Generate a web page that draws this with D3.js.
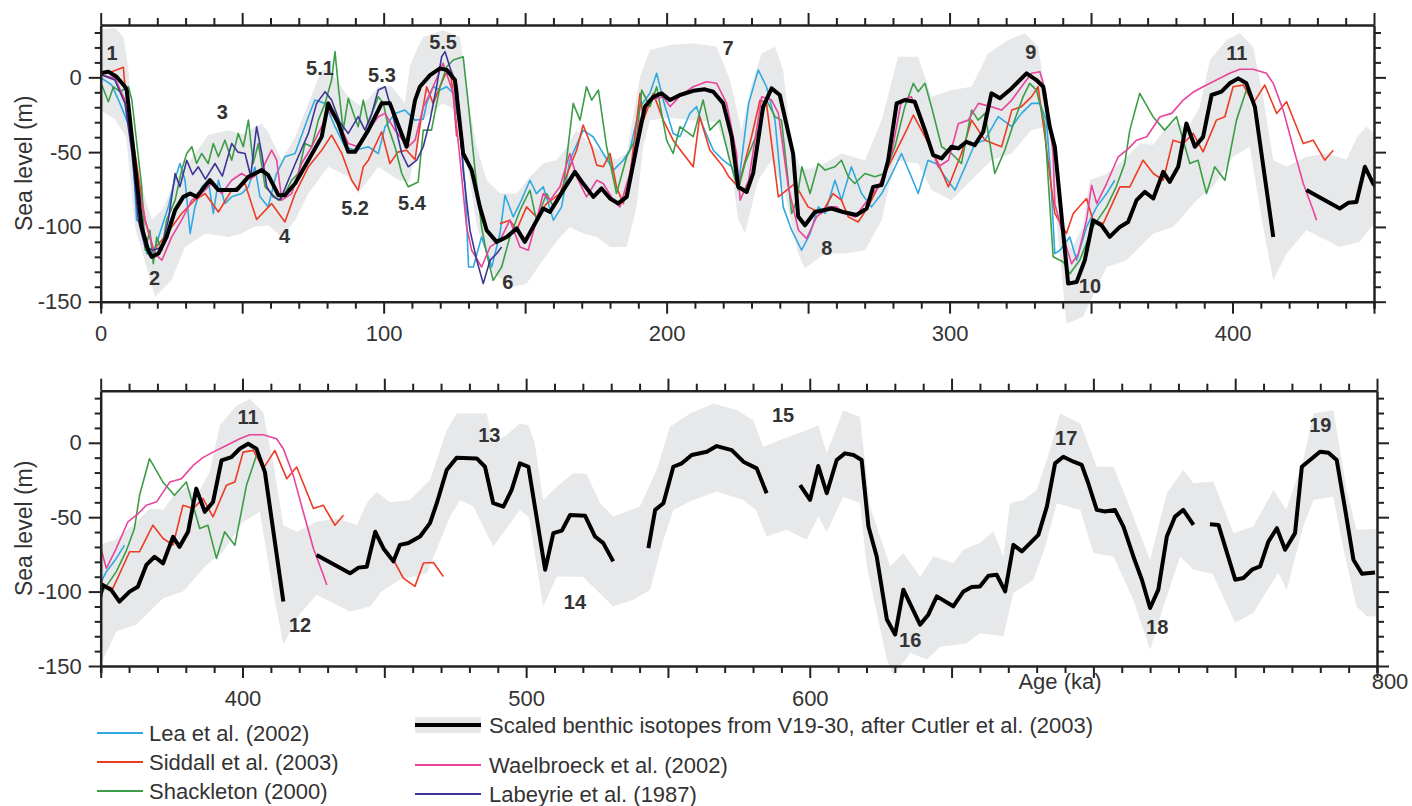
<!DOCTYPE html>
<html>
<head>
<meta charset="UTF-8">
<title>Sea level</title>
<script src="https://d3js.org/d3.v7.min.js"></script>
<style>
  body { margin: 0; background: #fff; }
  svg { font-family: "Liberation Sans", Arial, sans-serif; }
  .tick text { fill: #333; font-size: 22px; }
  .domain { stroke: #222; stroke-width: 2.5px; }
  .tick line { stroke: #222; stroke-width: 2px; }
</style>
</head>
<body>
<svg id="chart" width="1412" height="806"></svg>
<script>
// age (ka), sea level (m); null = gap in record
const benthic = [
  [0,2.7],[2.7,3.8],[5.6,0.4],[8.6,-6.3],[9.2,-8.5],[14.5,-100],[16.8,-115.6],[18,-120],[20.4,-117.8],[23.3,-106.7],
  [26.3,-88.8],[29.2,-79.9],[31.6,-77.6],[33.9,-79.9],[38.6,-68.7],[41.6,-75.4],[48,-75.4],[52.2,-66.5],[56.9,-62],
  [59.2,-65.4],[62.8,-78.8],[65.1,-78.8],[68.7,-71],[73.4,-55.4],[78.1,-39.8],[80.4,-17.4],[84,-30.8],[87.5,-49.8],
  [89.9,-49.8],[94.6,-35.3],[99.3,-17.4],[102.2,-17.4],[108.1,-46.4],[111.1,-15.2],[112.8,-6.3],[116.4,1.5],[119.9,6],
  [122.3,4.9],[125.2,-1.8],[128.1,-50.9],[131.1,-62],[134,-86.6],[136.4,-102.2],[139.9,-110],[143.5,-106.7],[147,-101],
  [149.9,-110],[153.5,-97.7],[156.4,-87.7],[158.8,-90],[163.5,-75.4],[167.6,-63.2],[170.5,-71],[174.1,-79.9],[177,-74.3],
  [180,-81],[182.9,-84.3],[185.9,-79.9],[189.4,-46.4],[192.3,-19.7],[195.3,-13],[198.2,-10.7],[201.2,-15.2],[204.7,-11.8],
  [209.4,-9],[213.5,-8],[216.5,-9.6],[220,-17.4],[223,-39.8],[225.3,-73.2],[228.3,-76.6],[230.6,-64],[234.1,-19.7],
  [237.1,-7.4],[240,-11.8],[244.7,-51],[246.5,-93],[248.9,-98.9],[252.4,-90],[258.3,-87.7],[262.4,-90],[267.1,-92],
  [270.7,-87.7],[273,-73.2],[276,-72],[278.3,-55.4],[281.3,-17.4],[284.2,-15.2],[287.7,-16.3],[291.3,-35.3],[294.2,-52],
  [297.2,-54.2],[300.7,-46.4],[303.1,-47.5],[306,-43.1],[308.9,-45.3],[311.9,-36.4],[314.8,-10.7],[317.8,-14],[321.9,-7.4],
  [327.2,2.7],[330.7,-1.8],[333.1,-6.3],[335.4,-33.1],[337.2,-46.4],[341.9,-137.9],[344.9,-136.8],[347.8,-122.3],
  [350.7,-95.5],[353.7,-98.9],[356.6,-106.7],[360.2,-100],[363.1,-96.7],[366.1,-82.1],[369,-76.6],[372,-81],[375.5,-63.2],
  [377.8,-69.9],[380.8,-59.8],[383.7,-30.8],[386.7,-46.4],[389.6,-39.8],[392.6,-11.8],[396.1,-9.6],[399,-4],[402,-0.7],
  [404.9,-4],[407.9,-19.7],[414.4,-106.7],
  null,
  [426.1,-75.4],[437.9,-87.7],[440.9,-83.9],[443.8,-83.3],[446.8,-59.8],[449.7,-71],[453.2,-79.7],[455.5,-68.6],
  [458.5,-67.4],[462.6,-63],[466.1,-54],[468.5,-40.6],[472,-18.3],[475.5,-10],[482.6,-10.5],[485.5,-16.1],[488.4,-40.6],
  [492,-42.9],[494.9,-31.7],[497.8,-13.8],[500.8,-16.1],[506.7,-85.3],[509.6,-60.7],[512.6,-59],[515.5,-48.5],
  [520.8,-49.1],[524.3,-63],[527.2,-67.4],[530.7,-79.7],
  null,
  [543.1,-70.8],[545.5,-45.1],[548.4,-40.6],[551.9,-16.1],[554.9,-13.8],[558.4,-8.2],[563.7,-6],[567.2,-2.2],
  [572.5,-4.9],[576.6,-12.7],[581.3,-17.2],[584.8,-33.9],
  null,
  [596.6,-28.4],[600.1,-38.4],[603,-15.6],[606,-33.9],[609.5,-11.6],[612.4,-7.1],[615.4,-8.2],[618.3,-11.6],
  [620.7,-56.3],[623.6,-76.4],[627.2,-118.8],[630.1,-128.9],[633,-98.7],[638.9,-122.2],[641.8,-115.5],[644.8,-103.2],
  [650.6,-109.9],[654.2,-99.9],[657.1,-96.9],[660,-96.5],[663,-89.3],[665.9,-88.7],[668.9,-99.9],[671.8,-68.6],
  [674.8,-73],[677.7,-67.4],[680.6,-61.9],[683.6,-42.9],[686.5,-13.8],[689.4,-9.4],[693,-12.7],[695.9,-14.9],
  [698.2,-27.2],[701.2,-45.1],[704.1,-46.2],[707.6,-45.1],[710.6,-56.3],[714.1,-76.4],[717.1,-92],[720,-111],
  [722.9,-98.7],[725.9,-63],[728.8,-49.6],[731.7,-45.1],[735.3,-55.2],
  null,
  [741.1,-54.7],[744.1,-55.2],[750,-92],[752.9,-90.9],[755.9,-85.3],[758.8,-83.1],[761.7,-66.4],[764.7,-57.4],
  [767.6,-71.9],[771.1,-60.7],[773.5,-16.1],[776.4,-11.6],[779.9,-6],[782.9,-6.7],[785.8,-11.6],[788.8,-45.1],
  [791.7,-78.6],[794.7,-88],[799.3,-87.1]
];

// grey uncertainty envelope of the benthic curve
const bandUpper = [
  [0,32],[5,33],[8,27],[9.7,7],[11.4,-37],[14,-70],[18,-95],[22,-88],[26.3,-68.7],[33.3,-50.9],[38,-38.6],
  [45.1,-35.3],[50,-38],[56.9,-30.8],[59,-36],[64,-55.4],[68.7,-39.8],[73.4,-17.4],[78.1,4.9],[80.9,5],[87.5,-13],
  [92.2,-19.7],[98.1,-6.3],[102.8,-6],[107.5,-17.4],[109.3,8],[112.2,20.5],[114,27],[121,31.7],[127,27],[130,-17.4],
  [132.9,-46.4],[136.4,-68.7],[141.1,-77.6],[147,-77.6],[151.7,-66.5],[156.4,-57.6],[161.1,-55.4],[164.7,-46.4],
  [168.2,-35.3],[172.9,-44.2],[177.6,-50.9],[182.3,-55],[185.9,-50.9],[190.6,0.4],[194.1,18.3],[201.2,21.6],
  [209.4,22.8],[217.7,20.5],[222.4,-1.8],[226.5,-35.3],[230,-5],[233.6,16],[238.3,20.5],[241.2,4.9],[244.2,-46.4],
  [247.7,-62],[253.6,-59.8],[261.8,-50.9],[270.1,-55.4],[276,-28.6],[281.8,13.8],[288.9,13.8],[293.6,-13],
  [300.7,-8.5],[307.8,-6.3],[313.6,16],[320.7,25],[326.6,29.5],[331.3,20.5],[334.3,-15],[337,-40],[340,-100],
  [343,-115],[347,-100],[349.6,-68.7],[355,-65],[361.4,-55.4],[367.2,-44.2],[372,-45],[376.7,-33.1],[380.2,-30],
  [384,-35],[388.4,-19.7],[392,11.6],[397.9,25],[402.6,29.5],[407.3,20.5],[410.8,-13],[414.4,-55.4],[419.1,-59.8],
  [426.1,-53.1],[433.2,-50.9],[440.3,-55],[444,-40],[447.3,-33],[452,-40],[459,-38.4],[466.1,-25],[472,8.5],
  [475.5,19.7],[486.1,19.7],[488.4,-0.4],[493,5],[497.8,13],[500.8,11.7],[503,0],[506,-38.4],[510.8,-29.5],
  [516.6,-20.5],[521.3,-21],[526.1,-40.6],[530.7,-49.6],[540.1,-42.9],[546,-18.3],[550.7,10.7],[557.8,19.7],
  [566,26.4],[574.3,21.9],[580.1,15.2],[583.6,-2.7],[589.5,1.8],[598.9,8.5],[603,11.9],[606,-7.1],[611.8,21.9],
  [617.7,17.4],[621.3,-42.9],[628.3,-83.1],[633,-74.1],[638.9,-90],[643.6,-76.4],[650.6,-80.8],[654.2,-71.9],
  [660,-67.4],[664.7,-59.6],[668.3,-76.4],[670.6,-40.6],[675.3,-38.4],[680,-31.7],[683.6,-11.6],[688.3,19.7],
  [695.4,13],[701.2,-16.1],[707.1,-16.1],[711.8,-38.4],[720,-78.6],[725.9,-33.9],[731.7,-18.3],[735.3,-27.2],
  [742.3,-26.1],[749.4,-60.7],[756.4,-56.3],[763.5,-31.7],[768,-45],[774,-11.6],[777.6,19.7],[784.6,21.9],
  [789.3,-31.7],[792.8,-58.5],[800,-58]
];
const bandLower = [
  [0,-22],[5,-28],[9,-40],[12.1,-100],[19.2,-146.8],[25,-135.7],[29.8,-113.4],[36.9,-104.4],[45.1,-106.7],
  [49.8,-104.4],[54,-100],[59.2,-98.9],[64,-106.7],[68.7,-95.5],[73.4,-77.6],[80.4,-59.8],[87.5,-66.5],[91,-77.6],
  [98.1,-59.8],[105.2,-68.7],[109,-70],[114,-28],[121,-17.4],[127,-24],[129.3,-55.4],[133,-100],[138.7,-131],
  [145.8,-140],[150.5,-138],[156.4,-122],[161,-110],[165.8,-100],[170.5,-104.4],[175.3,-106.7],[180,-113.4],
  [185.9,-113.4],[189.4,-86.6],[191.7,-46.4],[194.1,-28.6],[201.2,-27],[209.4,-28.6],[217.7,-30],[222.4,-55.4],
  [225.3,-95],[227.7,-104.4],[232.4,-68.7],[237.1,-55.4],[241.8,-77.6],[246.5,-117.8],[248.9,-127.8],[255.9,-117.8],
  [263,-117.8],[270.1,-115.6],[276,-95.5],[280.7,-55.4],[288.9,-57.6],[293.6,-75.4],[300.7,-82.1],[307,-70],
  [314.8,-55.4],[321.9,-50.9],[328.9,-35.3],[333.6,-33.1],[337,-80],[341.3,-164.7],[347.2,-160],[355.5,-126.8],
  [362.5,-122.3],[372,-104.4],[379,-100],[387.3,-82.1],[393.1,-73.2],[400.2,-53.1],[406.1,-46.4],[410.8,-100],
  [414.4,-135.7],[419.1,-117.8],[426.1,-102.2],[437.9,-113.4],[445,-110],[449,-100],[455.5,-92],[465,-87.6],
  [473.2,-49.6],[476.7,-38.4],[481.4,-42.9],[488.4,-69.7],[497.8,-45.1],[501,-50],[506,-110],[510.8,-89.8],
  [520,-90],[530.7,-110],[537.8,-105.4],[543.7,-98.7],[548.4,-65.2],[551.9,-45.1],[558.9,-38.4],[567.2,-32.8],
  [576.6,-38.4],[581,-45],[584.8,-63],[591.9,-58.5],[598.9,-65.2],[603,-49.6],[606,-60],[611.8,-36.2],[617.7,-40.6],
  [620.1,-83.1],[627.2,-145.6],[629.5,-156.8],[635.4,-141.2],[641.3,-145.6],[646,-137],[655,-135],[660,-128],
  [668.3,-130],[671.8,-101],[678.9,-92],[683,-70],[687.1,-40.6],[695.4,-45.1],[700,-74.1],[707.1,-76.4],
  [714.1,-105.4],[720,-139],[724.7,-110],[730.6,-76.4],[735.3,-85.3],[742,-88],[750,-121],[756.4,-114.3],
  [761,-100],[765.2,-87.5],[768.2,-98.7],[774,-56.3],[777.6,-38.4],[784.6,-36.2],[788,-70],[792.8,-110],
  [796.4,-116.6],[800,-116.6]
];

const lea = [
  [0.4,-0.7],[3.9,-5.1],[6.8,-17.4],[9.2,-28.6],[11,-37.5],[12.7,-95.5],[14.5,-97.8],[16.3,-117.9],[18.6,-117.9],
  [21.6,-100],[23.9,-86.6],[26,-70],[28,-57.6],[29.8,-68.8],[31.6,-104.4],[33.3,-86.6],[35.7,-73.2],[38,-68.8],
  [39.8,-91],[41.6,-68.8],[43.9,-84.4],[46.3,-79.9],[49.8,-77.7],[52.2,-73.2],[54.5,-60],[56.3,-79.9],[59.2,-86.6],
  [62,-65],[65.1,-53.1],[68.7,-50.9],[73.4,-26.3],[75.7,-15.2],[79.3,-17.4],[82.8,-33],[86.3,-46.4],[89.9,-48.7],
  [94.6,-46.4],[98.1,-50.9],[100.5,-33],[104,-24.1],[107.5,-21.9],[111.1,-28.6],[114,-28],[115.2,-17.4],[117.5,-6.3],
  [119.9,-8.5],[122.3,-6.3],[124.6,-10.7],[127,-35.3],[128.8,-73.2],[130,-126.8],[131.7,-126.8],[134.6,-106.7],
  [138.2,-126.8],[141.1,-104.4],[142.9,-78.8],[145.8,-93.3],[148.7,-82.1],[151.7,-68.8],[154,-77.7],[156.4,-73.2],
  [160,-95.5],[162.9,-86.6],[165.8,-55.4],[170.5,-35.3],[174,-39.7],[177.6,-50.9],[181.2,-62],[184.7,-55.4],
  [187,-48.7],[190.6,-19.6],[194.1,-10.7],[196.5,2.7],[198.8,-15.2],[202.3,-37.5],[204.7,-39.7],[208.2,-24.1],
  [210.6,-19.6],[212.9,-33],[216.5,-48.7],[220,-55.4],[223,-59.8],[225.3,-73.2],[229,-17.4],[232.4,4.9],[235.3,-6.3],
  [238.3,-28.6],[241.2,-86.6],[244.2,-102.2],[247.7,-115.6],[250.7,-104.5],[253.6,-86.6],[256,-91],[259.5,-68.8],
  [261.8,-82.1],[265.3,-59.8],[268.9,-77.7],[272.4,-86.6],[276,-77.7],[279.5,-65],[283,-50.9],[286.5,-66.5],
  [288.9,-77.7],[292.4,-55.4],[295.5,-58],[298.4,-66.5],[301.9,-75.4],[305.5,-59.8],[309,-44.2],[312.5,-42],
  [317.2,-26.3],[322,-33],[325.4,-24.1],[329,-17.4],[331.9,-17.4],[334.2,-28.6],[335.5,-60],[337.2,-117.9],
  [339,-115.6],[342.5,-106.7],[344.9,-122.3],[348.4,-100],[352,-86.6],[355.5,-77.7],[358.4,-68.8]
];
const siddall = [
  [0.4,2.7],[3.9,3.8],[8,6.7],[8.6,-6.3],[12.1,-50.9],[15.7,-95.5],[18.6,-115.6],[21.6,-108.9],[25.1,-100],
  [28.6,-91],[33.3,-82],[36.9,-77.7],[41.6,-90],[46.3,-75.4],[51,-71],[55.1,-95],[60.4,-84.4],[65.1,-96.7],
  [68.7,-77.7],[73.4,-59.8],[78.1,-48.7],[81.6,-38.6],[85.2,-50.9],[88.7,-68.8],[91,-75.4],[92.8,-59.8],[94.6,-55.4],
  [99.3,-36.4],[102.2,-57.6],[105,-50],[108.1,-48.7],[111.1,-55],[113,-30],[115.2,-6.3],[117.5,-17.4],[119.9,-6.3],
  [121.7,1.6],[123.5,4.9],[124.5,-10],[125.8,-39.7],
  null,
  [141.1,-97.8],[144.6,-95.5],[147,-102],[150.5,-86.6],[154,-93.3],[157.6,-84.4],[162.3,-77.7],[165.8,-59.8],
  [168.2,-48.7],[170.5,-31.9],[173.5,-46.4],[175.3,-58.7],[177.6,-59.8],[180,-50.9],[182.3,-73.2],[184.7,-84.4],
  [187,-66.5],[190.6,-10.7],[191.8,-28.6],[195.3,-10.7],[198.8,-28.6],[202.3,-42],[205.8,-50.9],[209.4,-59.8],
  [211.7,-26.3],[215.3,-48.7],[220,-59.8],[222,-66.5],[225.3,-73.2],[230,-39.7],[233,-15.2],[235.3,-17.4],
  [239.5,-79.9],[245.3,-71],[250,-86.6],[254.8,-91],[258.8,-77.7],[261.8,-82.1],[264.2,-93.3],[267.7,-96.7],
  [271.2,-86.6],[276,-68.8],[280.7,-50.9],[284.8,-35.3],[287.2,-25.2],[291.3,-39.7],[296,-57.6],[299.6,-73.2],
  [301.9,-62.1],[304.2,-50.9],[307.8,-28.6],[312.5,-42],[318.4,-46.4],[322,-21.9],[325.4,-19.6],[329,-12.9],
  [331.3,-6.3],[333.7,-39.7],[337.2,-91],[341.3,-104.4],[343.7,-91],[348.4,-81],[350.7,-95.5],[354.3,-97.8],
  [360.2,-73.2],[363.7,-73.2],[368.4,-55.4],[372,-64.3],[375.5,-68.8],[379,-42],[382.6,-44.2],[386.1,-37.5],
  [389.6,-49.8],[394.3,-28.6],[397.3,-26.3],[400.2,-6.3],[403.8,-5.1],[407.3,-17.4],[411.4,-5.1],[415.6,-24.1],
  [419.1,-16.3],[425,-44.2],[428.5,-42],[432.6,-55.4],[435.6,-48.7],
  null,
  [453.2,-78.6],[456.7,-90.9],[460.8,-96.5],[463.8,-80.8],[467.3,-80.4],[470.8,-89.8]
];
const shackleton = [
  [0.4,-5.1],[2.7,-16.3],[4.5,-6.3],[6.8,-9.6],[9.8,-6.3],[11,-15],[14.5,-73.2],[15.7,-115.6],[17.4,-102.2],
  [18.6,-124.6],[19.8,-106.7],[21.6,-115.6],[23.3,-95.5],[26.3,-82.1],[28.6,-62],[30.4,-50.9],[32.2,-46.4],
  [33.9,-57.6],[35.7,-50.9],[38,-57.6],[39.8,-44.2],[41.6,-53.1],[43.9,-42],[46.3,-55.4],[48.6,-37.5],[50.4,-46.4],
  [52.2,-28.6],[53.9,-57.6],[55.7,-44.2],[58.1,-73.2],[60.4,-77.7],[62.8,-82.1],[65.1,-77.7],[67.5,-68.8],
  [69.8,-64.3],[72.2,-44.2],[74.6,-46.4],[76.9,-28.6],[79.3,-17.4],[81.6,-1.8],[82.8,17.2],[84,-6.3],[85.7,-35.3],
  [87.5,-14],[89.3,-24.1],[91,-33],[92.8,-15.2],[94.6,-31],[96.3,-21.9],[98.1,-13],[99.9,-17.4],[101.6,-33],
  [104,-46.4],[106.4,-64.3],[108.7,-73.2],[112.2,-70],[114,-35.3],[116.9,-35.3],[119.9,-6.3],[122.3,7.1],
  [124.6,11.6],[128.1,13.8],[129.9,-17.4],[132.3,-62],[134.6,-100],[136.4,-117.9],[138.7,-135.7],[141.7,-126.8],
  [144.6,-106.7],[148.2,-88.8],[151.7,-75.4],[154,-95.5],[157.6,-77.7],[160,-86.6],[163.5,-73.2],[167,-17.4],
  [169.4,-28.6],[171.7,-6.3],[173.5,-15.2],[175.9,-8.5],[178.8,-46.4],[182.3,-77.7],[185.9,-53.1],[189.4,-39.7],
  [191.2,-8.5],[194.1,-19.6],[196.5,-6.3],[200,-42],[202.3,-50.9],[204.7,-33],[209.4,-39.7],[212.9,-15.2],
  [215.3,-35.3],[218.8,-28.6],[222.3,-55.4],[225.3,-75.4],[227.7,-57.6],[232.4,-35.3],[235.3,-15.2],[238.3,-26.3],
  [240.6,-28.6],[244.2,-91],[246,-82.1],[247.8,-59.8],[250.7,-77.7],[253.6,-57.6],[256,-62],[259.5,-59.8],
  [261.8,-55.4],[264.2,-66.5],[266.5,-71],[270.1,-64.3],[273.6,-66.5],[277.1,-64.3],[280.7,-46.4],[284.2,-19.6],
  [287.2,-4],[288.9,-9.6],[291.3,-4],[293.6,-19.6],[297.2,-46.4],[300.7,-50.9],[304.2,-57.6],[307.8,-21.9],
  [310.1,-28.6],[312.5,-24.1],[316,-64.3],[319.5,-48.7],[323,-28.6],[326,-12.9],[328.3,-4],[330.7,-8.5],
  [333.6,-31],[336.6,-120],[340.2,-123.4],[342.5,-131.3],[346,-122.3],[350.7,-100],[355.5,-86.6],[358.9,-73.2],
  [361.9,-57.6],[363.7,-35.3],[367.2,-10.7],[371.9,-26.3],[376,-35.3],[380.2,-26.3],[384.9,-57.6],[387.8,-55.4],
  [390.8,-77.7],[393.7,-59.8],[397.3,-68.8],[401.4,-28.6],[404.9,-8.5]
];
const waelbroeck = [
  [0.4,1.6],[5,-0.7],[8.6,-15.2],[12,-60],[15.7,-95.5],[19.2,-117.9],[21.6,-122.3],[25.1,-106.7],[28.6,-95.5],
  [32.2,-82.1],[35.5,-78],[39.2,-71],[42.8,-77.7],[46.3,-68.8],[49.8,-64.3],[53,-68],[56.9,-62],[60.4,-48.7],
  [62.2,-55.4],[64,-82.1],[67.5,-77.7],[71,-57.6],[74.6,-46.4],[78.1,-33],[80.4,-21.9],[84,-30],[87.5,-44.2],
  [91,-46.4],[94.6,-35.3],[98.1,-26.3],[100.5,-24.1],[104,-35.3],[108.7,-46.4],[111.1,-42],[114,-20],[117.5,-6.3],
  [121,9.4],[124.6,-10.7],[127,-55.4],[129.3,-100],[131.1,-115.6],[134.6,-126.8],[137.6,-113.4],[141.1,-109],
  [144.6,-95.5],[148.2,-113.4],[151.1,-115.6],[154,-95.5],[156.4,-77.7],[158.8,-82.1],[162.3,-73.2],[165.8,-50.9],
  [168.2,-66.5],[171.7,-79.9],[175.3,-68.8],[177.6,-71],[181.2,-82.1],[183.5,-86.6],[187,-64.3],[190.6,-28.6],
  [194.1,-15.2],[198.8,-13],[201.2,-19.6],[205,-12],[209.4,-6.3],[214.1,-2.9],[217.7,-4],[221.2,-17.4],
  [224.7,-50.9],[226,-82.1],[229,-68.8],[233.6,-13],[237.1,-15.2],[239.5,-24.1],[243,-73.2],[246.6,-102.2],
  [249.5,-107.8],[253,-93.3],[257.1,-86.6],[260,-86.6],[263,-91],[266.7,-93.3],[270.1,-84.4],[275,-73.2],
  [279.5,-50.9],[283,-15.2],[286.5,-13],[291,-35],[296,-59.8],[299.6,-55.4],[303.1,-31],[306.6,-28.6],
  [310.2,-17.4],[314.8,-19.6],[318.4,-21.9],[322,-15.2],[325.4,-6.3],[329,2.7],[331.9,3.8],[334,-10],[336.6,-50.9],
  [337.2,-84.4],[340.2,-106.7],[343.1,-124.6],[345.5,-118],[348.4,-95.5],[350.2,-72.1],[352,-84.4],[355.5,-71],
  [359.6,-53.1],[363,-48],[366.1,-42],[369.7,-39.7],[374.4,-26.3],[378.5,-24.1],[382.6,-15.2],[386,-10],
  [389.6,-6.3],[394.3,-1.8],[399,2.7],[402.6,5.4],[407.3,5.4],[412,2.7],[414.4,-4],[417.9,-21.9],[421.4,-46.4],
  [425,-71],[428.5,-88.8],[429.7,-95.5]
];
const labeyrie = [
  [0.4,1.6],[5,-1.8],[8.6,-17.4],[11,-50],[13.3,-95.5],[15.7,-113.4],[18.6,-115.6],[21.6,-113.4],[23.9,-95.5],
  [26.3,-64.3],[28,-73.2],[30.4,-55.4],[32.5,-65],[34.5,-59.8],[37,-68],[40.4,-57.6],[43,-66],[46.3,-44.2],
  [48.5,-50],[51,-50.9],[53,-66],[55.1,-33],[56.9,-50.9],[58.7,-73.2],[61,-79.9],[63.4,-82.1],[66.3,-68.8],
  [69.8,-53.1],[73.4,-37.5],[76.3,-17.4],[79.3,-9.6],[81.6,-15.2],[84.5,-30],[87.5,-37.5],[91,-26.3],[93.4,-35.3],
  [95.8,-24.1],[98.1,-8.5],[100.5,-6.3],[102.8,-21.9],[106.4,-50.9],[108.7,-59.8],[111.7,-55.4],[114,-46.4],
  [116.4,-28.6],[118.7,-6.3],[120.5,13.8],[121.7,17.2],[123.5,6.3],[126,-6.3],[128.1,-62],[130.5,-102.2],
  [132.9,-122.3],[135.2,-137.9],[137.6,-122.3],[139.9,-117.9],[141.7,-113.4]
];

// marine isotope stage labels: [text, age, level]
const stagesTop = [
  ["1",4,16],["2",19,-134],["3",43,-23],["4",65,-106],["5.1",77.5,6],["5.2",89.9,-87.5],["5.3",99.4,1.5],
  ["5.4",110,-84],["5.5",121,23.6],["6",143.9,-137],["7",221.7,19.6],["8",256.6,-114.3],["9",328.7,16.9],
  ["10",349.6,-139.7],["11",401.5,16.3]
];
const stagesBottom = [
  ["11",402,17.2],["12",420.3,-122.4],["13",487,5.2],["14",517.2,-106.7],["15",590.6,18.6],["16",635.4,-132.2],
  ["17",690.4,3.1],["18",722.5,-123.5],["19",780,11.9]
];
// labelled ages on each lower axis (700 is covered by the axis title in the original)
const topAxisLabels = [0, 100, 200, 300, 400];
const bottomAxisLabels = [400, 500, 600];

const series = [
  { name: "Lea et al. (2002)", data: lea, color: "#2fa9e1" },
  { name: "Siddall et al. (2003)", data: siddall, color: "#ee3b24" },
  { name: "Shackleton (2000)", data: shackleton, color: "#3c9d47" },
  { name: "Waelbroeck et al. (2002)", data: waelbroeck, color: "#e8449b" },
  { name: "Labeyrie et al. (1987)", data: labeyrie, color: "#3d3594" }
];

const svg = d3.select("#chart");

const panels = [
  { id: "top", domain: [0, 450], left: 100.7, right: 1374, top: 25, bottom: 301.7, stages: stagesTop, labels: topAxisLabels },
  { id: "bot", domain: [350, 800], left: 100.7, right: 1377, top: 390.7, bottom: 666, stages: stagesBottom, labels: bottomAxisLabels }
];

panels.forEach(p => {
  const x = d3.scaleLinear().domain(p.domain).range([p.left, p.right]);
  const y = d3.scaleLinear().domain([-150, 35]).range([p.bottom, p.top]);
  const g = svg.append("g");

  const defs = g.append("defs");
  defs.append("clipPath").attr("id", "band-" + p.id).append("rect")
    .attr("x", p.left).attr("y", p.top).attr("width", p.right - p.left).attr("height", p.bottom - p.top + 40);
  defs.append("clipPath").attr("id", "plot-" + p.id).append("rect")
    .attr("x", p.left).attr("y", p.top).attr("width", p.right - p.left).attr("height", p.bottom - p.top);

  // grey envelope: upper edge left to right, lower edge back
  const ring = bandUpper.concat(bandLower.slice().reverse());
  g.append("path")
    .attr("clip-path", `url(#band-${p.id})`)
    .attr("d", d3.line().x(d => x(d[0])).y(d => y(d[1]))(ring) + "Z")
    .attr("fill", "#e7e8ea");

  const line = d3.line().defined(d => d !== null).x(d => x(d[0])).y(d => y(d[1]));
  const lines = g.append("g").attr("clip-path", `url(#plot-${p.id})`).attr("fill", "none");
  series.forEach(s => {
    lines.append("path").attr("d", line(s.data)).attr("stroke", s.color)
      .attr("stroke-width", 1.6).attr("stroke-linejoin", "round");
  });
  lines.append("path").attr("d", line(benthic)).attr("stroke", "#000")
    .attr("stroke-width", 4).attr("stroke-linejoin", "round");

  // axes
  const xt = d3.range(p.domain[0], p.domain[1] + 1, 10);
  const yt = d3.range(-150, 31, 10);
  const xLab = d => p.labels.includes(d) ? String(d) : "";
  const yLab = d => d % 50 === 0 ? String(d) : "";

  const bx = g.append("g").attr("transform", `translate(0,${p.bottom})`)
    .call(d3.axisBottom(x).tickValues(xt).tickFormat(xLab).tickSizeOuter(0).tickSize(7).tickPadding(5));
  bx.selectAll(".tick line").attr("y2", d => d % 50 === 0 ? 12 : 7);
  bx.selectAll(".tick text").attr("y", 24);

  const tx = g.append("g").attr("transform", `translate(0,${p.top})`)
    .call(d3.axisTop(x).tickValues(xt).tickFormat("").tickSizeOuter(0));
  tx.selectAll(".tick line").attr("y2", d => d % 50 === 0 ? -12 : -7);

  const ly = g.append("g").attr("transform", `translate(${p.left},0)`)
    .call(d3.axisLeft(y).tickValues(yt).tickFormat(yLab).tickSizeOuter(0));
  ly.selectAll(".tick line").attr("x2", d => d % 50 === 0 ? -12 : -6);
  ly.selectAll(".tick text").attr("x", -19);

  const ry = g.append("g").attr("transform", `translate(${p.right},0)`)
    .call(d3.axisRight(y).tickValues(yt).tickFormat("").tickSizeOuter(0));
  ry.selectAll(".tick line").attr("x2", d => d % 50 === 0 ? 12 : 7);

  g.append("text")
    .attr("transform", `translate(24,${(p.top + p.bottom) / 2}) rotate(-90)`)
    .attr("text-anchor", "middle").attr("dominant-baseline", "central")
    .attr("font-size", 23).attr("fill", "#333").text("Sea level (m)");

  g.append("g").selectAll("text").data(p.stages).join("text")
    .attr("x", d => x(d[1])).attr("y", d => y(d[2]))
    .attr("text-anchor", "middle").attr("dominant-baseline", "central")
    .attr("font-size", 20).attr("font-weight", "bold").attr("fill", "#333")
    .text(d => d[0]);
});

// axis title and the end label beside it
svg.append("text").attr("x", 1060).attr("y", 681).attr("dominant-baseline", "central")
  .attr("text-anchor", "middle").attr("font-size", 22).attr("fill", "#333").text("Age (ka)");
svg.append("text").attr("x", 1390).attr("y", 681).attr("dominant-baseline", "central")
  .attr("text-anchor", "middle").attr("font-size", 22).attr("fill", "#333").text("800");

// legend
const legendLeft = [series[0], series[1], series[2]];
const legendRight = [
  { name: "Scaled benthic isotopes from V19-30, after Cutler et al. (2003)", color: "#000", benthic: true },
  series[3], series[4]
];
const lg = svg.append("g").attr("font-size", 22).attr("fill", "#333");
legendLeft.forEach((s, i) => {
  const yy = [733, 762, 791][i];
  lg.append("line").attr("x1", 97).attr("x2", 143).attr("y1", yy).attr("y2", yy)
    .attr("stroke", s.color).attr("stroke-width", 2);
  lg.append("text").attr("x", 149).attr("y", yy).attr("dominant-baseline", "central").text(s.name);
});
legendRight.forEach((s, i) => {
  const yy = [725, 765, 794][i];
  if (s.benthic) {
    lg.append("rect").attr("x", 415).attr("y", yy - 8).attr("width", 66).attr("height", 16).attr("fill", "#e7e8ea");
    lg.append("line").attr("x1", 415).attr("x2", 481).attr("y1", yy).attr("y2", yy)
      .attr("stroke", "#000").attr("stroke-width", 4);
  } else {
    lg.append("line").attr("x1", 415).attr("x2", 481).attr("y1", yy).attr("y2", yy)
      .attr("stroke", s.color).attr("stroke-width", 2);
  }
  lg.append("text").attr("x", 489).attr("y", yy).attr("dominant-baseline", "central").text(s.name);
});
</script>
</body>
</html>
